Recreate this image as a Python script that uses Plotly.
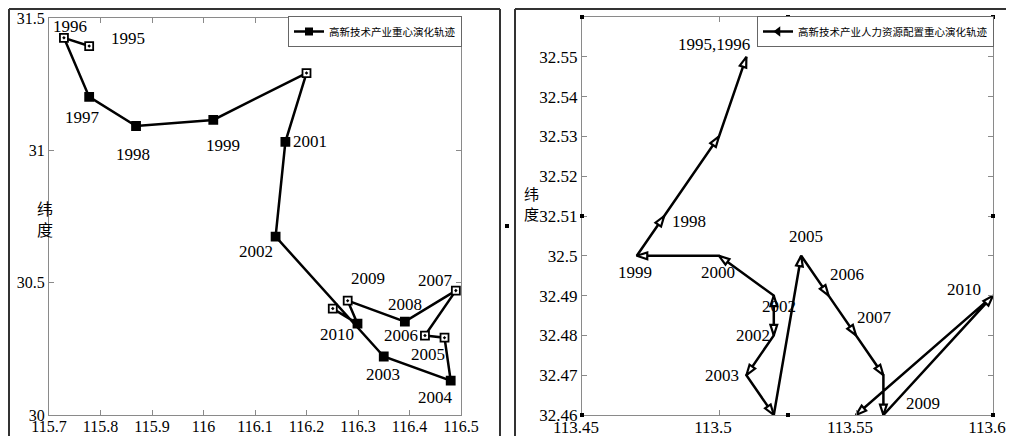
import plotly.graph_objects as go

# ---------------- data ----------------
# Left panel: centre of gravity of high-tech industry (lon, lat)
left_years = ["1995", "1996", "1997", "1998", "1999", "", "2001", "2002", "2003",
              "2004", "2005", "2006", "2007", "2008", "2009", "2010", ""]
left_lon = [115.778, 115.729, 115.778, 115.869, 116.019, 116.200, 116.159, 116.140,
            116.350, 116.480, 116.468, 116.430, 116.490, 116.391, 116.280, 116.299, 116.251]
left_lat = [31.394, 31.425, 31.202, 31.092, 31.115, 31.292, 31.032, 30.674,
            30.221, 30.130, 30.292, 30.300, 30.470, 30.353, 30.432, 30.345, 30.402]
left_open = [True, True, False, False, False, True, False, False,
             False, False, True, True, True, False, True, False, True]

# Right panel: centre of gravity of high-tech human resources allocation
right_labels = ["1995,1996", "", "1998", "1999", "2000", "2002", "2002", "2003", "",
                "2005", "2006", "2007", "", "2009", "2010", ""]
right_lon = [113.51, 113.50, 113.48, 113.47, 113.50, 113.52, 113.52, 113.51, 113.52,
             113.53, 113.54, 113.55, 113.56, 113.56, 113.60, 113.55]
right_lat = [32.55, 32.53, 32.51, 32.50, 32.50, 32.49, 32.48, 32.47, 32.46,
             32.50, 32.49, 32.48, 32.47, 32.46, 32.49, 32.46]

left_xticks = [115.7, 115.8, 115.9, 116.0, 116.1, 116.2, 116.3, 116.4, 116.5]
left_xtext = ["115.7", "115.8", "115.9", "116", "116.1", "116.2", "116.3", "116.4", "116.5"]
left_yticks = [30.0, 30.5, 31.0, 31.5]
left_ytext = ["30", "30.5", "31", "31.5"]
right_xticks = [113.45, 113.50, 113.55, 113.60]
right_xtext = ["113.45", "113.5", "113.55", "113.6"]
right_yticks = [32.46, 32.47, 32.48, 32.49, 32.50, 32.51, 32.52, 32.53, 32.54, 32.55, 32.56]
right_ytext = ["32.46", "32.47", "32.48", "32.49", "32.5", "32.51", "32.52", "32.53",
               "32.54", "32.55", "32.56"]

legend_left = "高新技术产业重心演化轨迹"
legend_right = "高新技术产业人力资源配置重心演化轨迹"

# label offsets in pixels (dx right, dy down)
left_off = {0: (39, -8), 1: (6, -11), 2: (-7, 21), 3: (-3, 29), 4: (10, 26), 6: (25, 0),
            7: (-20, 15), 8: (-1, 18), 9: (-15, 17), 10: (-17, 17), 11: (-24, 0),
            12: (-20, -10), 13: (0, -17), 14: (20, -22), 15: (-20, 11)}
right_off = {0: (-32, -12), 2: (25, 5), 3: (-2, 17), 4: (-1, 17), 5: (5, 11), 6: (-21, 0),
             7: (-24, 0), 9: (5, -19), 10: (18, -21), 11: (18, -18), 13: (40, -12),
             14: (-29, -6)}

SERIF = "Liberation Serif, Times New Roman, serif"
CJK = "Noto Sans CJK SC"
AXC = "#8a8a8a"
OFF = 8  # page body margin offsets the figure by this many pixels
W, H = 1014 - OFF, 444 - 2 * OFF


def xp(px):
    return (px - OFF) / W


def yp(py):
    return 1 - (py - OFF) / H


fig = go.Figure()

# ---------------- left panel ----------------
fig.add_trace(go.Scatter(
    x=left_lon, y=left_lat, mode="lines+markers", showlegend=False,
    line=dict(color="black", width=2.5),
    marker=dict(symbol="square-dot", size=8,
                color=["white" if o else "black" for o in left_open],
                line=dict(color="black", width=1.8)),
    cliponaxis=False, xaxis="x", yaxis="y"))
fig.add_trace(go.Scatter(
    x=[None], y=[None], mode="lines+markers", name=legend_left, legend="legend",
    line=dict(color="black", width=2.5),
    marker=dict(symbol="square", size=8, color="black"), xaxis="x", yaxis="y"))

# ---------------- right panel ----------------
fig.add_trace(go.Scatter(
    x=right_lon, y=right_lat, mode="lines", showlegend=False,
    line=dict(color="black", width=2.5), cliponaxis=False, xaxis="x2", yaxis="y2"))

split = 6
back_idx = list(range(split, -1, -1))
fwd_idx = list(range(split - 1, len(right_lon)))
for idx in (back_idx, fwd_idx):
    fig.add_trace(go.Scatter(
        x=[right_lon[i] for i in idx], y=[right_lat[i] for i in idx],
        mode="markers", showlegend=False, cliponaxis=False,
        marker=dict(symbol="arrow", angleref="previous", color="white", opacity=1,
                    size=[0] + [11] * (len(idx) - 1),
                    line=dict(color="black", width=2.2)),
        xaxis="x2", yaxis="y2"))
fig.add_trace(go.Scatter(
    x=[None], y=[None], mode="lines+markers", name=legend_right, legend="legend2",
    line=dict(color="black", width=2.5),
    marker=dict(symbol="triangle-left", size=9, color="black"), xaxis="x2", yaxis="y2"))

# ---------------- labels ----------------
ann = []
for i, t in enumerate(left_years):
    if t and i in left_off:
        dx, dy = left_off[i]
        ann.append(dict(x=left_lon[i], y=left_lat[i], xref="x", yref="y", text=t,
                        showarrow=False, xshift=dx, yshift=-dy,
                        font=dict(family=SERIF, size=17, color="black")))
for i, t in enumerate(right_labels):
    if t and i in right_off:
        dx, dy = right_off[i]
        ann.append(dict(x=right_lon[i], y=right_lat[i], xref="x2", yref="y2", text=t,
                        showarrow=False, xshift=dx, yshift=-dy,
                        font=dict(family=SERIF, size=17, color="black")))

# axis titles (stacked vertical)
ann.append(dict(x=xp(35), y=yp(218), xref="paper", yref="paper", text="纬<br>度",
                showarrow=False, font=dict(family=CJK, size=16, color="black")))
ann.append(dict(x=xp(531), y=yp(204), xref="paper", yref="paper", text="纬<br>度",
                showarrow=False, font=dict(family=CJK, size=15, color="black")))

axis_common = dict(showline=True, linecolor=AXC, linewidth=1, mirror="ticks",
                   ticks="inside", ticklen=5, tickcolor=AXC, tickwidth=1, showgrid=False,
                   zeroline=False, automargin=False,
                   tickfont=dict(family=SERIF, size=16, color="black"))
rfont = dict(family=SERIF, size=17, color="black")

ydom_l = [yp(415), yp(18)]
ydom_r = [yp(415), yp(17)]

# small selection-handle squares visible in the reference image (page pixels)
handles = [(582, 17), (788, 17), (993, 17), (993, 216), (582, 216), (788, 415),
           (993, 415), (582, 415), (507, 226)]
shapes = [
    dict(type="line", xref="paper", yref="paper", x0=xp(9), x1=xp(9), y0=0, y1=yp(9),
         line=dict(color="#333", width=2)),
    dict(type="line", xref="paper", yref="paper", x0=xp(9), x1=xp(500), y0=yp(9), y1=yp(9),
         line=dict(color="#333", width=2)),
    dict(type="line", xref="paper", yref="paper", x0=xp(500), x1=xp(500), y0=0, y1=yp(9),
         line=dict(color="#333", width=2)),
    dict(type="line", xref="paper", yref="paper", x0=xp(515), x1=xp(515), y0=0, y1=yp(9),
         line=dict(color="#333", width=2)),
    dict(type="line", xref="paper", yref="paper", x0=xp(515), x1=1, y0=yp(9), y1=yp(9),
         line=dict(color="#333", width=2)),
]
for hx, hy in handles:
    shapes.append(dict(type="rect", xref="paper", yref="paper",
                       x0=xp(hx - 2), x1=xp(hx + 2), y0=yp(hy + 2), y1=yp(hy - 2),
                       fillcolor="black", line=dict(width=0)))

fig.update_layout(
    template="none",
    width=W, height=H, margin=dict(l=0, r=0, t=0, b=0, pad=0),
    paper_bgcolor="white", plot_bgcolor="white",
    font=dict(family=SERIF, color="black"),
    xaxis=dict(domain=[xp(49), xp(461)], range=[115.7, 116.5], tickvals=left_xticks,
               ticktext=left_xtext, anchor="y", ticklabelstandoff=-3, **axis_common),
    yaxis=dict(domain=ydom_l, range=[30.0, 31.5], tickvals=left_yticks,
               ticktext=left_ytext, anchor="x", **axis_common),
    xaxis2=dict(domain=[xp(582), xp(993)], range=[113.45, 113.60], tickvals=right_xticks,
                ticktext=right_xtext, anchor="y2", ticklabelstandoff=-3,
                ticklabelshift=-6, **{**axis_common, "tickfont": rfont}),
    yaxis2=dict(domain=ydom_r, range=[32.46, 32.56], tickvals=right_yticks,
                ticktext=right_ytext, anchor="x2", **{**axis_common, "tickfont": rfont}),
    legend=dict(x=xp(288), y=yp(16), xanchor="left", yanchor="top",
                bgcolor="white", bordercolor="#666", borderwidth=1,
                font=dict(family=CJK, size=10.5, color="black"),
                itemwidth=30, tracegroupgap=0),
    legend2=dict(x=xp(757), y=yp(16), xanchor="left", yanchor="top",
                 bgcolor="white", bordercolor="#666", borderwidth=1,
                 font=dict(family=CJK, size=10.5, color="black"),
                 itemwidth=30, tracegroupgap=0),
    annotations=ann,
    shapes=shapes,
)

fig.write_html("out.html")
